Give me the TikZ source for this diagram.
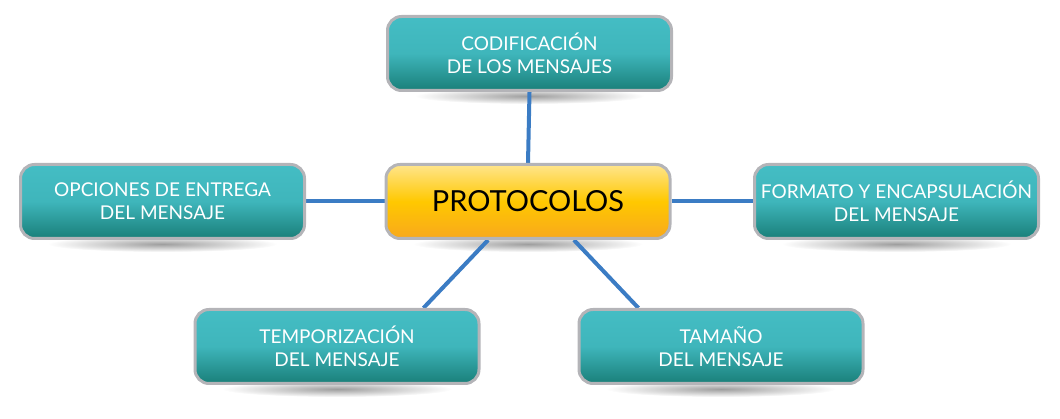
\documentclass[tikz,border=0pt]{standalone}
\usepackage{fontspec}
\setmainfont{Lato}
\usetikzlibrary{backgrounds}
\definecolor{tealtop}{HTML}{44BDC4}
\definecolor{tealbot}{HTML}{1A7F79}
\definecolor{goldtop}{HTML}{FFE58C}
\definecolor{goldmid}{HTML}{FFC800}
\definecolor{goldbot}{HTML}{F8A81C}
\definecolor{linkblue}{HTML}{3B7CC4}
\definecolor{rim}{HTML}{B4B4B8}
\begin{document}
\begin{tikzpicture}[x=1pt,y=-1pt,
        topic/.style={rectangle,rounded corners=14pt,draw=rim,line width=3pt,
            minimum width=284pt,minimum height=74pt,align=center,text=white,
            top color=tealtop,bottom color=tealbot,middle color=tealtop!88!tealbot,
            font=\fontsize{19}{23}\selectfont},
        hub/.style={topic,text=black,top color=goldtop,bottom color=goldbot,
            middle color=goldmid,font=\fontsize{29}{34}\selectfont},
        link/.style={draw=linkblue,line width=4pt}]
\useasboundingbox (0,0) rectangle (1060,419);

\node[hub]   (proto) at (528,201.5) {PROTOCOLOS};
\node[topic] (codif) at (529.5,53.5) {CODIFICACIÓN\\DE LOS MENSAJES};
\node[topic] (entrega) at (162.5,201.5) {OPCIONES DE ENTREGA\\DEL MENSAJE};
\node[topic] (formato) at (896.5,201.5) {FORMATO Y ENCAPSULACIÓN\\DEL MENSAJE};
\node[topic] (tiempo) at (337,346.5) {TEMPORIZACIÓN\\DEL MENSAJE};
\node[topic] (tamano) at (721,346.5) {TAMAÑO\\DEL MENSAJE};

\begin{scope}[on background layer]
  % soft shadows under the boxes
  \foreach \n in {proto,codif,entrega,formato,tiempo,tamano}
    \shade[inner color=black!38,outer color=white] ([yshift=-4pt]\n.south) ellipse (115 and 8);
  \draw[link] (proto.north) -- (codif.south);
  \draw[link] (proto.west) -- (entrega.east);
  \draw[link] (proto.east) -- (formato.west);
  \draw[link] (proto.224) -- (tiempo.24);
  \draw[link] (proto.320) -- (tamano.155);
\end{scope}
\end{tikzpicture}
\end{document}
